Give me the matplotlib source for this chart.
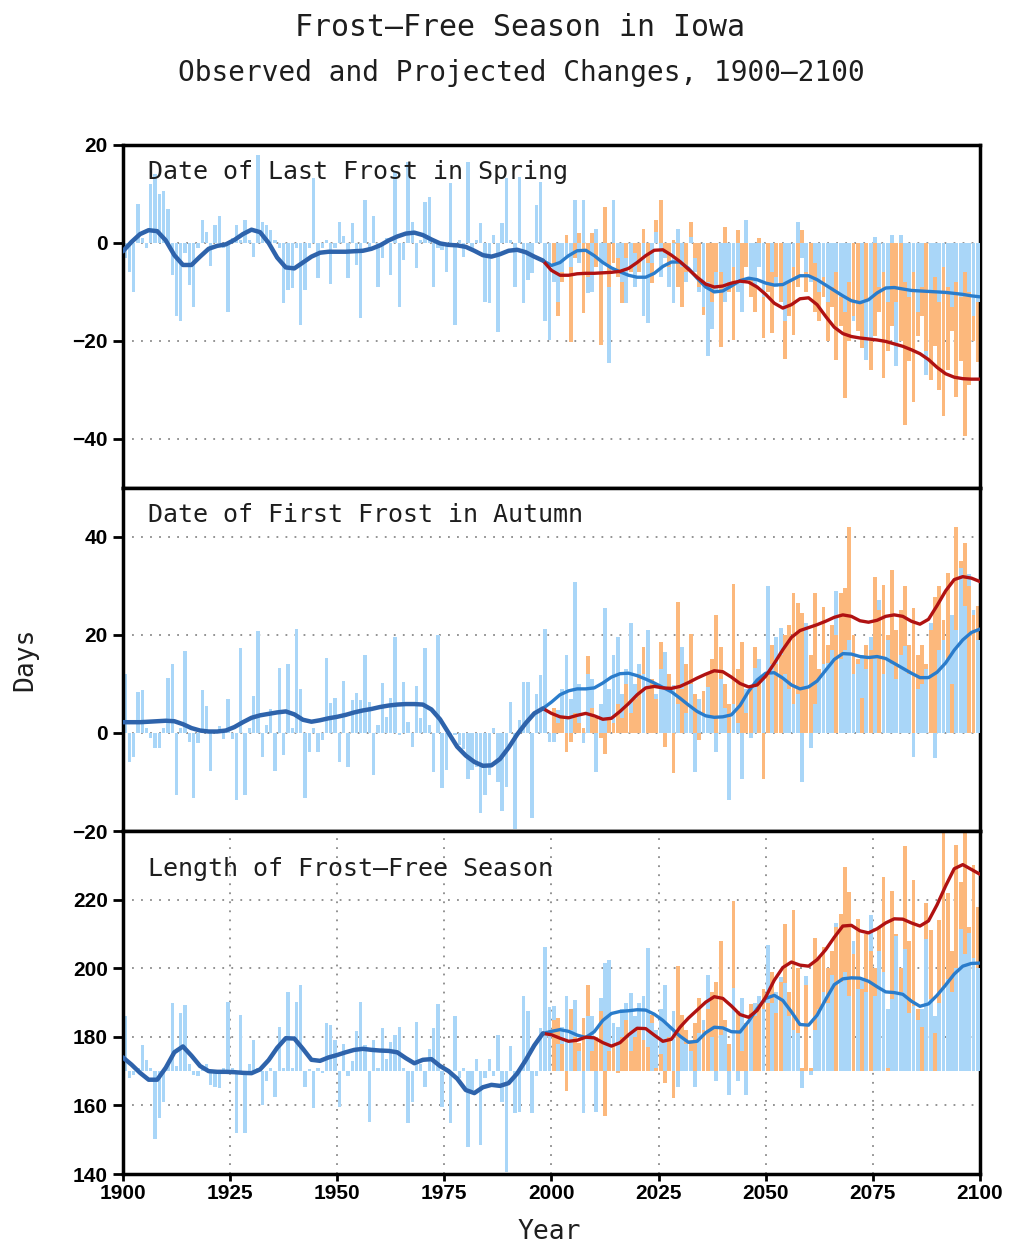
import numpy as np
import matplotlib
matplotlib.use('Agg')
import matplotlib.pyplot as plt

# 年 (観測 1900-1999, 予測 2000-2099)
obs_years = np.arange(1900, 2000)
proj_years = np.arange(2000, 2100)
obs_line_years = np.arange(1900, 2000, 2)
proj_line_years = np.arange(1998, 2101, 2)

# ---- Date of Last Frost in Spring ----
spring_obs = [
    -3, -6, -10, 8, 1, -1, 12, 14, 10, 10.5,
    7, -6.5, -15, -16, -2, -8.5, -13, -1, 4.7, 2.3,
    -4.7, 3.7, 5.5, -1, -14, 1, 3.7, 0.5, 4.7, 0.5,
    -2.8, 18, 4.3, 3.7, 2.7, 0.5, -1, -12.3, -9.6, -9.3,
    -1, -16.7, -9.6, -1, 13.2, -7.2, -1, 0.6, -8.4, -1,
    4.3, 1.5, -7.2, 4, -4.5, -15.4, 8.8, -1, 5.5, -9,
    -3, 1, -6.5, 14.5, -13, -3.5, 16.6, 4.3, -5.2, 0.5,
    8.4, 9.4, -9, -1, -1.4, -5.9, 12.2, -16.7, 0.6, -2.8,
    16.6, -1, 0.5, 4, -12, -12.3, 1.6, -18.1, 4, 13.2,
    0.5, -9, 13.5, -12.3, -7.5, -6.2, 7.7, 12.5, -16, -19.8]
spring_low = [
    -8, -12, -6, -3, -5, 8.8, -4, 8.8, -10.3, -10,
    2.9, -6, -4, -24.6, 8.8, -3, -8, -12.3, -5, -9,
    -6, -15, -16.3, -4, 2.3, -7, -3, -9, -12.3, 2.9,
    -5, -8, 1.3, -6, -10, -13, -23, -17.5, -10, -6,
    -12, -8, -5, -10, -14, 4.7, -7, -9, -5, -11,
    -10, -6, -9, -12, -16, -8, -5, 4.3, -3, -6,
    -8, -4, -10, -7, -12, -9, -6, -11, -14, -8,
    -16, -18, -12, -23.9, -20, 1.3, -9, -6, -12, 1.6,
    -25.2, 1.6, -8, -11, -6, -14, -9, -26.9, -10, -7,
    -12, -5, -9, -13, -8, -11, -6, -10, -15, -12]
spring_high = [
    -4, -15, -8, 1.6, -20.2, -3, 2, -14.4, -7, 2,
    -5, -20.8, 7.4, -9, -4, -7, -12.3, -3, -5.9, -2,
    -6, 2.9, -4, -8.2, 4.7, 8.8, -2, -5, 0.5, -9,
    -13, -6, 4.3, -3, -9, -14.7, -8, -12, -6, -21.2,
    3.3, -10, -19.8, 2.7, -8, -5, -11, -14, 1, -19.4,
    -10, -18.4, -7, -12, -23.6, -15, -18.8, -9, 2.7, -10,
    -7, -14, -16, -11, -20, -13, -23.9, -17, -31.7, -20,
    -15, -18, -21.5, -12, -26, -19, -14, -27.6, -22, -17,
    -12, -20, -37.1, -24, -32.4, -19, -15, -22, -28, -21,
    -30, -35.4, -26, -18, -31.4, -24, -39.5, -29, -20, -24.2]
spring_obs_smooth = [
    -1.7, 0.2, 1.8, 2.6, 2.4, 0.5, -2.5, -4.5, -4.5, -2.8,
    -1.2, -0.6, -0.3, 0.6, 1.8, 2.7, 2.2, 0, -3, -5,
    -5.2, -4, -2.8, -2, -1.8, -1.8, -1.8, -1.7, -1.6, -1.2,
    -0.5, 0.5, 1.3, 1.9, 2.1, 1.6, 0.7, -0.1, -0.4, -0.5,
    -0.8, -1.6, -2.5, -2.8, -2.3, -1.6, -1.4, -1.9, -2.8, -3.6]
spring_low_smooth = [
    -3.6, -4.6, -4.0, -2.6, -1.6, -1.5, -2.6, -4.0, -5.1, -5.9,
    -6.6, -7.0, -7.0, -6.2, -4.8, -3.9, -3.9, -5.2, -7.2, -9.0,
    -10.0, -9.8, -8.8, -7.7, -7.2, -7.5, -8.2, -8.6, -8.5, -7.6,
    -6.7, -6.7, -7.5, -8.6, -9.7, -10.8, -11.8, -12.2, -11.6, -10.2,
    -9.2, -9.1, -9.4, -9.7, -9.8, -9.9, -10.0, -10.1, -10.3, -10.5,
    -10.8, -11.0]
spring_high_smooth = [
    -3.6, -5.6, -6.6, -6.6, -6.3, -6.2, -6.2, -6.1, -6.0, -5.8,
    -5.2, -4.0, -2.6, -1.5, -1.4, -2.5, -3.8, -5.4, -7.0, -8.4,
    -9.0, -8.8, -8.2, -7.8, -8.0, -9.0, -10.5, -12.3, -13.3, -12.6,
    -11.4, -11.2, -12.6, -15.0, -17.2, -18.5, -19.1, -19.4, -19.6, -19.8,
    -20.1, -20.6, -21.1, -21.8, -22.6, -23.8, -25.4, -26.7, -27.4, -27.7,
    -27.8, -27.8]

# ---- Date of First Frost in Autumn ----
autumn_obs = [
    12, -6, -5, 8.3, 8.8, 1, -1.1, -3.1, -3.1, 1,
    11.3, 14.1, -12.7, 1, 16.8, -1.8, -13.3, -2, 8.8, 5.6,
    -7.8, 0.5, 1.5, -1.2, 6.9, -1.2, -13.7, 17.3, -12.7, 1,
    7.6, 20.9, -4.8, 1.6, 4.9, -7.7, 13.2, -4.5, 14.1, 1,
    21.3, 9, -13.3, -3.8, 1, -3.8, -1.5, 15.4, 6.1, 7.1,
    -5.9, 10.6, -6.9, 6.7, 8.1, 6.7, 15.9, 6.4, -8.6, 1.6,
    10.1, 3.3, 7.1, 19.5, -0.4, 10.4, 2.3, -2.8, 9.6, 3,
    17.3, 1.6, -7.9, 20, -11.3, -7.6, -1, -0.5, -2.5, -3.2,
    -9.3, -7.6, -6.9, -16.4, -12.7, -8.6, 1, -9.9, -16, -11,
    6.4, -19.5, 2.7, 10.5, 10.5, -17.4, 7.9, 11.8, 21.2, -1.8]
autumn_low = [
    -1.8, 4.7, 9, 15.9, 7, 30.9, 10, -2, 12, 11,
    -7.9, 6, 25.6, 9, 15.9, 19.6, 8, 13, 22.4, 10,
    14, 12, 21, 11, 8, 13, 16.6, 9, 9.7, 6,
    17.6, 4, 10, -7.9, 7, 4, 9.3, 3, -3.8, 11,
    5, -13.7, 6, 2, -9.3, 9, -1, 13.3, 15, 11,
    29.9, 14, 19.5, 21.4, 12, 9, 6, 8, -9.9, 22.4,
    -3.1, 6, 11, 14, 14.3, 17, 28.9, 15, 17, 19,
    12, 14, 16, 13, 19.6, 15, 27.1, 12, 19, 14,
    11, 16, 17.8, 12, -4.8, 9, 10, 13, 22.4, -5.2,
    17, 19, 15, 24, 21, 33.6, 26, 32.5, 25, 19]
autumn_high = [
    5, 2, 3, -3.8, -1.8, 4, 2, 1, 15.8, 5,
    3, -1, -4.3, 3, 2, 6, 3, 10, 4, 7,
    12, 17.6, 9, 11, 7, 18.6, -2.8, 12, -8.2, 26.7,
    9, 14, 20.3, 8, -1.5, 8.5, 12, 15, 24.1, 17.5,
    10, 6, 30.5, 13, 18.6, 4, 9, 17.6, 11, -9.3,
    12, 18, 14, 16, 20, 22, 28.5, 26.5, 24.4, 9,
    16, 28.5, 13, 25.7, 18, 22, 20, 28.5, 29.5, 42.1,
    20, 15, 7.1, 18, 17, 31.9, 25, 30.2, 20, 33.3,
    21, 25, 29.9, 18, 25.5, 16, 18, 14, 21, 27.8,
    29.9, 23, 32.6, 10, 42.1, 35, 38.7, 30, 24.1, 26]
autumn_obs_smooth = [
    2.2, 2.2, 2.2, 2.3, 2.4, 2.5, 2.4, 1.8, 1.0, 0.5,
    0.3, 0.3, 0.5, 1.2, 2.2, 3.1, 3.6, 3.9, 4.2, 4.4,
    3.8, 2.7, 2.3, 2.6, 3.0, 3.3, 3.7, 4.2, 4.6, 4.9,
    5.3, 5.6, 5.8, 5.9, 5.9, 5.8, 4.8, 2.8, 0.0, -2.8,
    -4.6, -5.9, -6.7, -6.6, -5.3, -3.0, -0.3, 2.0, 4.0, 5.0]
autumn_low_smooth = [
    5.0, 6.3, 7.8, 8.6, 9.0, 9.0, 9.2, 10.2, 11.4, 12.1,
    12.2, 11.7, 11.0, 10.2, 9.3, 8.4, 7.1, 5.7, 4.4, 3.5,
    3.2, 3.3, 3.7, 5.6, 8.5, 10.8, 12.2, 12.3, 11.2, 9.8,
    9.0, 9.4, 10.6, 12.8, 15.0, 16.2, 16.1, 15.6, 15.4, 15.6,
    15.2, 14.2, 13.2, 12.2, 11.3, 11.3, 12.4, 14.3, 16.9, 19.0,
    20.5, 21.2]
autumn_high_smooth = [
    5.0, 4.0, 3.3, 3.1, 3.6, 4.0, 3.5, 2.8, 3.0, 4.4,
    6.0, 7.8, 9.2, 9.5, 9.2, 9.1, 9.5, 10.3, 11.2, 12.0,
    12.7, 12.5, 11.4, 10.1, 9.4, 9.8, 11.6, 14.2, 17.0, 19.5,
    20.9, 21.5, 22.1, 22.8, 23.6, 24.1, 23.8, 22.9, 22.6, 23.0,
    23.8, 24.1, 23.8, 22.8, 22.2, 23.2, 26.0, 29.0, 31.3, 31.9,
    31.6, 30.9]

# ---- Length of Frost-Free Season ----
length_obs = [
    186, 168, 169, 171, 177.5, 173.3, 171, 150.2, 156.3, 161.1,
    172, 189.9, 171.4, 186.9, 189.4, 172, 169, 168.5, 171, 172,
    166, 165.5, 165.2, 171, 190.1, 171, 151.9, 186.5, 151.9, 172,
    179.2, 171, 160.2, 167, 171, 162.6, 182.8, 171, 193.1, 171,
    190.2, 195.2, 165.5, 170.5, 159.2, 171, 169.5, 184, 183.5, 179.2,
    159.4, 178, 168.5, 173, 181.6, 190.2, 177.5, 155.3, 179, 171,
    182.6, 173.5, 178.5, 180.5, 183, 171, 154.8, 161, 184.3, 172,
    165.5, 176.5, 182.5, 189.6, 159.6, 171, 154.8, 186, 168, 171,
    148, 164.5, 173.5, 148.5, 168, 173.5, 168.5, 180.6, 161, 140.7,
    177.2, 157.7, 158.2, 191.8, 187.4, 157.7, 168.5, 182.5, 206.2, 188.6]
length_low = [
    188.9, 178, 183, 191.8, 182, 190.8, 176, 157.7, 186, 186,
    158.2, 191.3, 201.5, 202.5, 184, 183, 188, 190, 192.8, 186,
    190, 192, 205.9, 184, 182, 188, 195.2, 183, 187.5, 165.5,
    180, 178, 176, 165.5, 181, 185, 198.1, 180, 167, 180.5,
    183, 163.1, 194.2, 167, 191.3, 163.1, 186, 190, 192, 188,
    206.9, 190, 193, 197.5, 195.7, 186, 182, 181, 165, 197.6,
    169, 182, 188, 193, 190, 198, 213.2, 196, 199, 192,
    207.8, 194, 197, 193, 215.6, 192, 205, 199, 188, 191,
    209.5, 193, 205.5, 187, 189, 185, 188, 208.5, 191, 186,
    190, 194, 197, 193, 200, 211.3, 204, 210.3, 203, 200]
length_high = [
    185, 185.5, 178, 164.1, 188, 180, 178.3, 185.5, 195.2, 176,
    180, 187.5, 156.8, 176, 178, 169.5, 180, 185, 176, 180,
    183, 179, 177, 186.5, 171, 175, 166.5, 180, 162.1, 200.6,
    186.5, 182, 179, 184, 191.2, 182, 188, 193, 196.1, 207.8,
    185, 178, 219.5, 187.4, 176, 184, 189.7, 186, 189.7, 194,
    190, 199, 187, 196, 212.8, 193, 216.9, 200, 171, 195,
    171, 208.9, 203, 206.3, 200, 205, 212, 215.8, 229.4, 222.1,
    204, 214.3, 194, 210, 205, 200, 212, 226.5, 171, 222.6,
    210, 200, 235.7, 208, 225.6, 188, 183, 219, 211, 181,
    214, 239.5, 222, 205, 236, 225, 239.5, 212, 230, 217.8]
length_obs_smooth = [
    174, 171.9, 169.5, 167.5, 167.5, 171, 175.5, 177.2, 174.5, 171.5,
    170, 169.8, 169.8, 169.7, 169.5, 169.4, 170.5, 173.2, 176.8, 179.6,
    179.5, 176.5, 173.3, 173, 174, 174.7, 175.5, 176.2, 176.5, 176.2,
    176.0, 175.9, 175.5, 173.8, 172.3, 173.3, 173.5, 171.5, 170, 167.8,
    164.5, 163.6, 165.3, 166, 165.7, 166.5, 169.3, 173.2, 177.5, 181]
length_low_smooth = [
    181, 181.6, 182.1, 181.6, 180.5, 179.8, 181.5, 184.8, 186.8, 187.4,
    187.6, 187.9, 187.8, 186.6, 184.8, 182.5, 180.2, 178.4, 178.7, 181.2,
    182.8, 182.6, 181.5, 181.4, 184.5, 188.2, 191.2, 192.1, 190.6, 187.3,
    183.6, 183.4, 186.3, 190.9, 195.2, 196.9, 197.2, 197.1, 196.2, 194.6,
    193.1, 192.9, 192.4, 190.4, 188.9, 189.6, 192.1, 195.1, 198.3, 200.6,
    201.4, 201.5]
length_high_smooth = [
    181, 180.6, 179.6, 178.7, 179.0, 179.9, 179.7, 178.3, 177.3, 178.3,
    180.6, 182.5, 182.4, 180.5, 178.7, 179.3, 182.8, 185.5, 187.8, 190.1,
    191.7, 191.2, 189.0, 186.5, 185.7, 187.7, 191.6, 196.5, 200.2, 201.8,
    200.9, 200.6, 202.5, 205.4, 209.0, 212.3, 212.5, 210.9, 210.3, 211.5,
    213.2, 214.4, 214.3, 213.2, 212.3, 213.8, 218.5, 224.0, 229.0, 230.2,
    228.8, 227.4]

panel_titles = ['Date of Last Frost in Spring', 'Date of First Frost in Autumn',
                'Length of Frost\u2013Free Season']

# 色
c_bar = '#a9d6f8'
c_orange = '#fcb87c'
c_obs = '#2e63ab'
c_low = '#2a7ccb'
c_high = '#b01212'
c_text = '#1e1e1e'
mono = 'DejaVu Sans Mono'

fig = plt.figure(figsize=(10.16, 12.47), dpi=100)

left, width, height = 0.121, 0.8435, 0.2751
bottoms = [0.6087, 0.3336, 0.0585]


def draw_panel(ax, obs, low, high, obs_s, low_s, high_s, base):
    obs = np.array(obs, dtype=float)
    low = np.array(low, dtype=float)
    high = np.array(high, dtype=float)
    ax.bar(obs_years + 0.5, obs - base, bottom=base, width=0.78,
           color=c_bar, linewidth=0, zorder=2)
    # 長い方を先に、短い方を上に描く
    low_big = np.abs(low - base) >= np.abs(high - base)
    w = 0.9
    ax.bar(proj_years[low_big] + 0.5, low[low_big] - base, bottom=base,
           width=w, color=c_bar, linewidth=0, zorder=2)
    ax.bar(proj_years[~low_big] + 0.5, high[~low_big] - base, bottom=base,
           width=w, color=c_orange, linewidth=0, zorder=2)
    ax.bar(proj_years[~low_big] + 0.5, low[~low_big] - base, bottom=base,
           width=w, color=c_bar, linewidth=0, zorder=3)
    ax.bar(proj_years[low_big] + 0.5, high[low_big] - base, bottom=base,
           width=w, color=c_orange, linewidth=0, zorder=3)
    ax.plot(proj_line_years, low_s, color=c_low, lw=2.4, zorder=5,
            solid_capstyle='round')
    ax.plot(proj_line_years, high_s, color=c_high, lw=2.4, zorder=5,
            solid_capstyle='round')
    ax.plot(obs_line_years, obs_s, color=c_obs, lw=3.2, zorder=6,
            solid_capstyle='round')


def style_axes(ax, ylim, yticks, vgrid=False):
    ax.set_xlim(1900, 2100)
    ax.set_ylim(*ylim)
    ax.set_yticks(yticks)
    ax.set_axisbelow(True)
    for s in ax.spines.values():
        s.set_linewidth(2.5)
    ax.tick_params(axis='y', direction='out', length=7, width=2,
                   labelsize=15, pad=4)
    for lab in ax.get_yticklabels():
        lab.set_fontweight('bold')
        lab.set_family('Liberation Sans')
    ax.grid(axis='y', color='#8a8a8a', linestyle=(0, (1, 4)), linewidth=1.3)
    if vgrid:
        ax.grid(axis='x', color='#8a8a8a', linestyle=(0, (1, 4)), linewidth=1.3)


ax1 = fig.add_axes([left, bottoms[0], width, height])
draw_panel(ax1, spring_obs, spring_low, spring_high,
           spring_obs_smooth, spring_low_smooth, spring_high_smooth, 0)
style_axes(ax1, (-50, 20), [-40, -20, 0, 20])
ax1.set_xticks(np.arange(1900, 2101, 25))
ax1.tick_params(axis='x', length=0, labelbottom=False)

ax2 = fig.add_axes([left, bottoms[1], width, height])
draw_panel(ax2, autumn_obs, autumn_low, autumn_high,
           autumn_obs_smooth, autumn_low_smooth, autumn_high_smooth, 0)
style_axes(ax2, (-20, 50), [-20, 0, 20, 40])
ax2.set_xticks(np.arange(1900, 2101, 25))
ax2.tick_params(axis='x', length=0, labelbottom=False)

ax3 = fig.add_axes([left, bottoms[2], width, height])
draw_panel(ax3, length_obs, length_low, length_high,
           length_obs_smooth, length_low_smooth, length_high_smooth, 170)
ax3.set_xticks(np.arange(1900, 2101, 25))
style_axes(ax3, (140, 240), [140, 160, 180, 200, 220], vgrid=True)
ax3.tick_params(axis='x', direction='out', length=5, width=2,
                labelsize=15, pad=2)
for lab in ax3.get_xticklabels():
    lab.set_fontweight('bold')
    lab.set_family('Liberation Sans')

for ax, t, yy in zip([ax1, ax2, ax3], panel_titles, [0.921, 0.921, 0.889]):
    ax.text(0.029, yy, t, transform=ax.transAxes, fontsize=18, family=mono,
            color=c_text, va='center', ha='left', zorder=10)

fig.text(0.512, 0.978, 'Frost\u2013Free Season in Iowa', ha='center',
         va='center', fontsize=21.5, family=mono, color=c_text)
fig.text(0.513, 0.9415, 'Observed and Projected Changes, 1900\u20132100',
         ha='center', va='center', fontsize=20, family=mono, color=c_text)
fig.text(0.025, 0.471, 'Days', rotation=90, ha='center', va='center',
         fontsize=19, family=mono, color=c_text)
fig.text(0.541, 0.012, 'Year', ha='center', va='center',
         fontsize=19, family=mono, color=c_text)

fig.savefig('out.png', dpi=100)
